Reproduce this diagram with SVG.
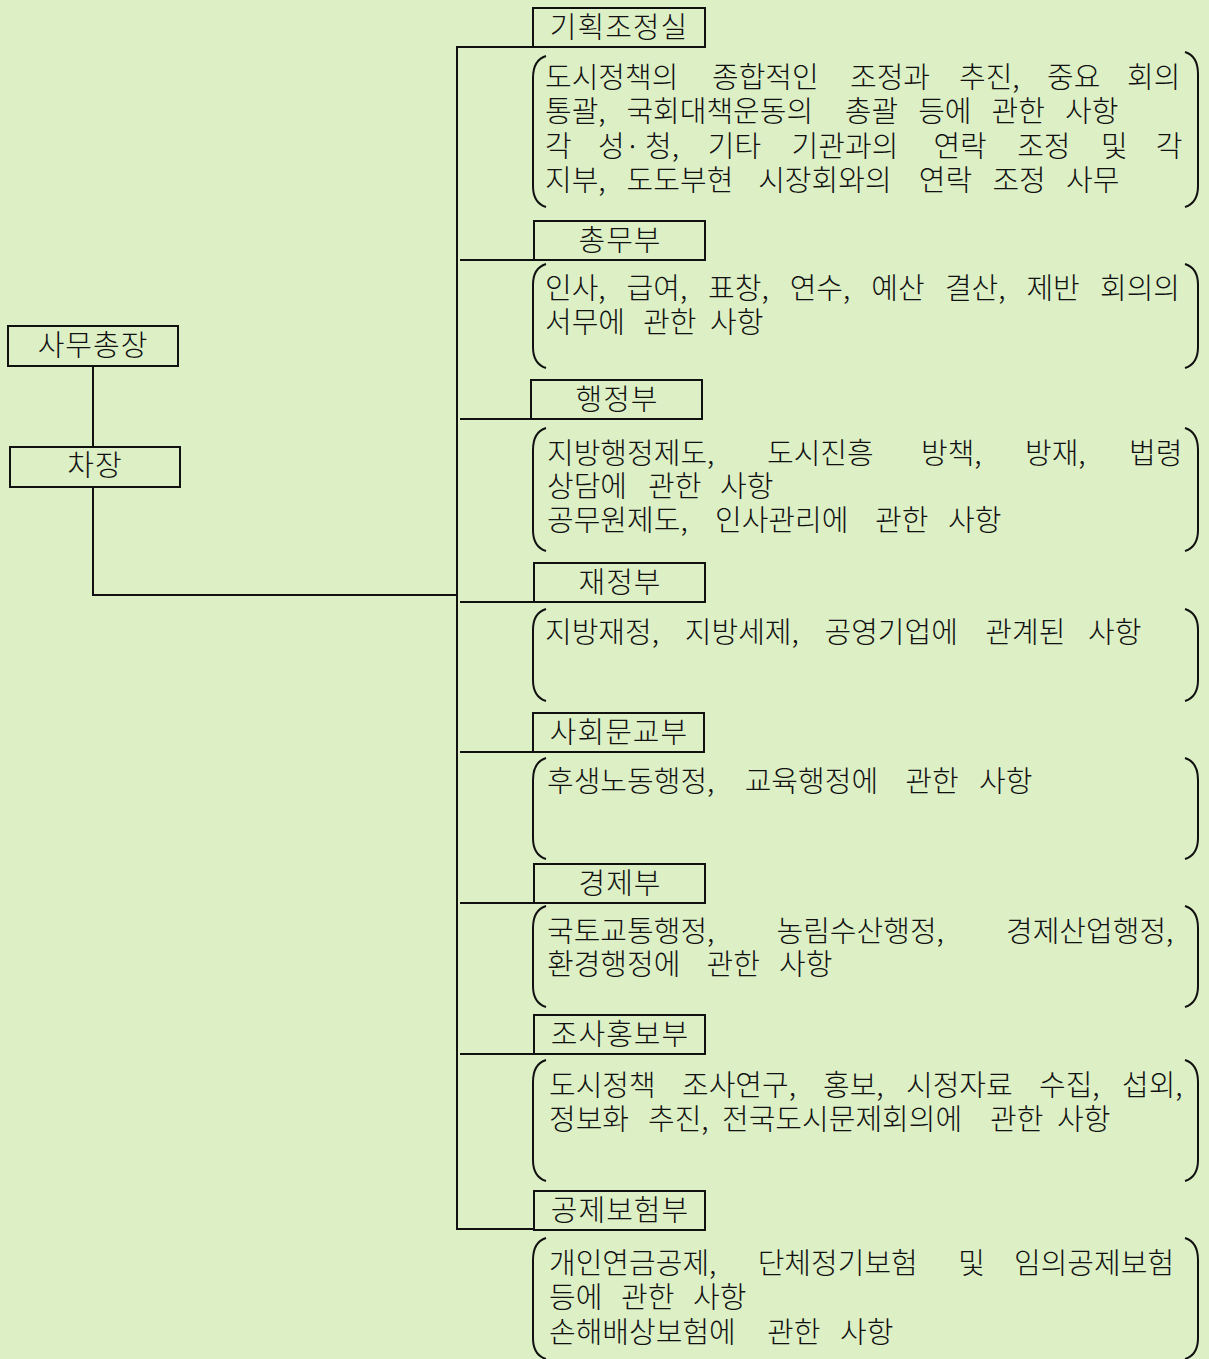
<svg xmlns="http://www.w3.org/2000/svg" width="1209" height="1359" viewBox="0 0 1209 1359">
<style>
.bg{fill:#dcefc5}
.box{fill:none;stroke:#111;stroke-width:2}
.ln{fill:none;stroke:#111;stroke-width:2}
.br{fill:none;stroke:#111;stroke-width:2}
text{font-family:"Noto Sans CJK KR","Noto Sans CJK SC",sans-serif;font-size:29px;font-weight:300;fill:#111}
.lbl{text-anchor:middle;letter-spacing:1px}
</style>
<rect class="bg" x="0" y="0" width="1209" height="1359"/>
<g id="connectors">
<path class="ln" d="M93,366 V447"/>
<path class="ln" d="M93,487 V595 H457"/>
<path class="ln" d="M533,47 H457 V1229 H534"/>
<path class="ln" d="M460,260 H534"/>
<path class="ln" d="M460,419 H531"/>
<path class="ln" d="M460,602 H534"/>
<path class="ln" d="M460,752 H533"/>
<path class="ln" d="M460,903 H534"/>
<path class="ln" d="M460,1054 H534"/>
</g>
<g id="node-samuchongjang">
<rect class="box" x="8" y="326" width="170" height="40"/>
<text class="lbl" x="93" y="356">사무총장</text>
</g>
<g id="node-chajang">
<rect class="box" x="10" y="447" width="170" height="40"/>
<text class="lbl" x="95" y="476">차장</text>
</g>
<g id="node-gihoek">
<rect class="box" x="533" y="8" width="172" height="39"/>
<text class="lbl" x="619" y="38">기획조정실</text>
<path class="br" d="M546,56 Q533,60 533,78 V186 Q533,203 546,207"/>
<path class="br" d="M1185,52 Q1198,56 1198,74 V186 Q1198,203 1185,207"/>
<text y="88"><tspan x="545">도시정책의</tspan><tspan x="712">종합적인</tspan><tspan x="850">조정과</tspan><tspan x="959">추진,</tspan><tspan x="1047">중요</tspan><tspan x="1127">회의</tspan></text>
<text y="122"><tspan x="545">통괄,</tspan><tspan x="626.4">국회대책운동의</tspan><tspan x="844.8">총괄</tspan><tspan x="918.2">등에</tspan><tspan x="991.6">관한</tspan><tspan x="1065">사항</tspan></text>
<text y="157"><tspan x="545">각</tspan><tspan x="598">성·</tspan><tspan x="645">청,</tspan><tspan x="707.8">기타</tspan><tspan x="791.6">기관과의</tspan><tspan x="933.4">연락</tspan><tspan x="1017.2">조정</tspan><tspan x="1101">및</tspan><tspan x="1155.8">각</tspan></text>
<text y="191"><tspan x="545">지부,</tspan><tspan x="626.6">도도부현</tspan><tspan x="758.2">시장회와의</tspan><tspan x="918.8">연락</tspan><tspan x="992.4">조정</tspan><tspan x="1066">사무</tspan></text>
</g>
<g id="node-chongmu">
<rect class="box" x="534" y="221" width="171" height="39"/>
<text class="lbl" x="620" y="251">총무부</text>
<path class="br" d="M546,264 Q533,268 533,285 V347 Q533,364 546,368"/>
<path class="br" d="M1185,264 Q1198,268 1198,285 V347 Q1198,364 1185,368"/>
<text y="299"><tspan x="545">인사,</tspan><tspan x="626.6">급여,</tspan><tspan x="708.1">표창,</tspan><tspan x="789.7">연수,</tspan><tspan x="871.3">예산</tspan><tspan x="944.9">결산,</tspan><tspan x="1026.4">제반</tspan><tspan x="1100">회의의</tspan></text>
<text y="333"><tspan x="545">서무에</tspan><tspan x="643">관한</tspan><tspan x="710">사항</tspan></text>
</g>
<g id="node-haengjeong">
<rect class="box" x="531" y="380" width="171" height="39"/>
<text class="lbl" x="617" y="410">행정부</text>
<path class="br" d="M546,428 Q533,432 533,450 V530 Q533,547 546,551"/>
<path class="br" d="M1185,428 Q1198,432 1198,450 V530 Q1198,547 1185,551"/>
<text y="464"><tspan x="547">지방행정제도,</tspan><tspan x="767">도시진흥</tspan><tspan x="921">방책,</tspan><tspan x="1025">방재,</tspan><tspan x="1129">법령</tspan></text>
<text y="497"><tspan x="547">상담에</tspan><tspan x="648">관한</tspan><tspan x="720">사항</tspan></text>
<text y="531"><tspan x="547">공무원제도,</tspan><tspan x="715">인사관리에</tspan><tspan x="875">관한</tspan><tspan x="948">사항</tspan></text>
</g>
<g id="node-jaejeong">
<rect class="box" x="534" y="563" width="171" height="39"/>
<text class="lbl" x="620" y="593">재정부</text>
<path class="br" d="M546,609 Q533,613 533,630 V680 Q533,697 546,701"/>
<path class="br" d="M1185,609 Q1198,613 1198,630 V680 Q1198,697 1185,701"/>
<text y="643"><tspan x="545">지방재정,</tspan><tspan x="684.8">지방세제,</tspan><tspan x="824.5">공영기업에</tspan><tspan x="985.3">관계된</tspan><tspan x="1088">사항</tspan></text>
</g>
<g id="node-sahoemungyo">
<rect class="box" x="533" y="713" width="171" height="39"/>
<text class="lbl" x="619" y="743">사회문교부</text>
<path class="br" d="M546,758 Q533,762 533,780 V838 Q533,855 546,859"/>
<path class="br" d="M1185,758 Q1198,762 1198,780 V838 Q1198,855 1185,859"/>
<text y="792"><tspan x="547">후생노동행정,</tspan><tspan x="744.7">교육행정에</tspan><tspan x="905.3">관한</tspan><tspan x="979">사항</tspan></text>
</g>
<g id="node-gyeongje">
<rect class="box" x="534" y="864" width="171" height="39"/>
<text class="lbl" x="620" y="894">경제부</text>
<path class="br" d="M546,906 Q533,910 533,928 V986 Q533,1003 546,1007"/>
<path class="br" d="M1185,906 Q1198,910 1198,928 V986 Q1198,1003 1185,1007"/>
<text y="942"><tspan x="547">국토교통행정,</tspan><tspan x="776.5">농림수산행정,</tspan><tspan x="1006">경제산업행정,</tspan></text>
<text y="975"><tspan x="547">환경행정에</tspan><tspan x="706.5">관한</tspan><tspan x="779">사항</tspan></text>
</g>
<g id="node-josahongbo">
<rect class="box" x="534" y="1015" width="171" height="39"/>
<text class="lbl" x="620" y="1045">조사홍보부</text>
<path class="br" d="M546,1060 Q533,1064 533,1082 V1160 Q533,1177 546,1181"/>
<path class="br" d="M1185,1060 Q1198,1064 1198,1082 V1160 Q1198,1177 1185,1181"/>
<text y="1096"><tspan x="549">도시정책</tspan><tspan x="682">조사연구,</tspan><tspan x="823">홍보,</tspan><tspan x="906">시정자료</tspan><tspan x="1039">수집,</tspan><tspan x="1122">섭외,</tspan></text>
<text y="1130"><tspan x="549">정보화</tspan><tspan x="648">추진,</tspan><tspan x="722">전국도시문제회의에</tspan><tspan x="990">관한</tspan><tspan x="1057">사항</tspan></text>
</g>
<g id="node-gongjebohom">
<rect class="box" x="534" y="1191" width="171" height="39"/>
<text class="lbl" x="620" y="1221">공제보험부</text>
<path class="br" d="M546,1238 Q533,1242 533,1260 V1338 Q533,1355 546,1359"/>
<path class="br" d="M1185,1238 Q1198,1242 1198,1260 V1338 Q1198,1355 1185,1359"/>
<text y="1274"><tspan x="549">개인연금공제,</tspan><tspan x="757.7">단체정기보험</tspan><tspan x="958.3">및</tspan><tspan x="1014">임의공제보험</tspan></text>
<text y="1308"><tspan x="549">등에</tspan><tspan x="621">관한</tspan><tspan x="693">사항</tspan></text>
<text y="1343"><tspan x="549">손해배상보험에</tspan><tspan x="767">관한</tspan><tspan x="840">사항</tspan></text>
</g>
</svg>
